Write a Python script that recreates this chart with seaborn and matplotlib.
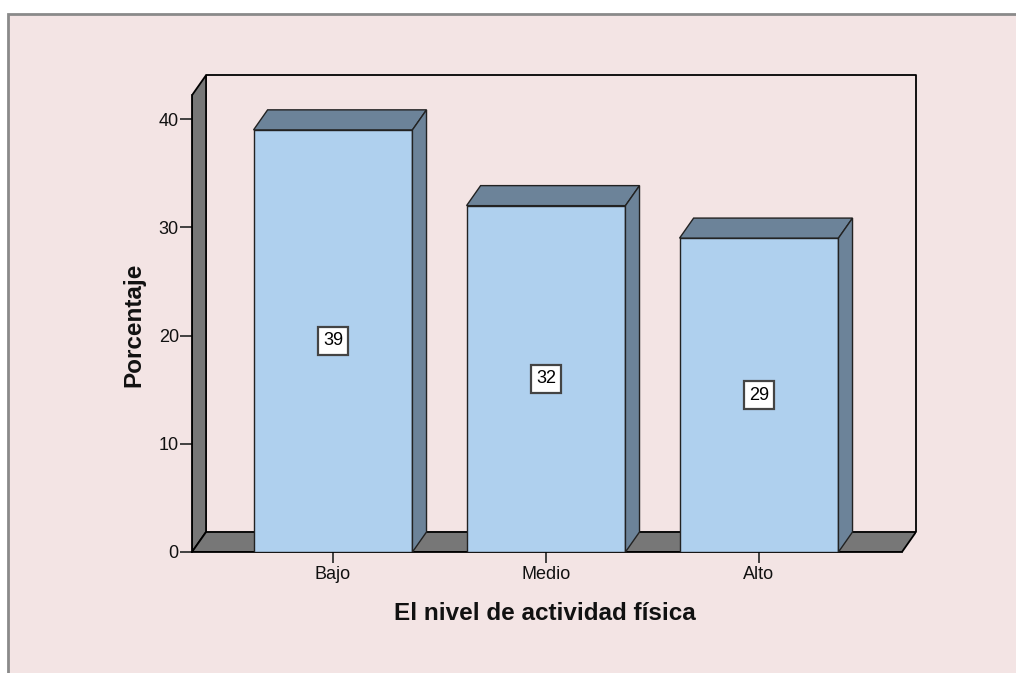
import matplotlib
matplotlib.use("Agg")
import matplotlib.pyplot as plt
from matplotlib.patches import Polygon, Rectangle
import seaborn as sns
import pandas as pd

categorias = ["Bajo", "Medio", "Alto"]
porcentajes = [39, 32, 29]
etiquetas = ["39", "32", "29"]
yticks = [0, 10, 20, 30, 40]

fondo = "#F3E4E4"
azul = "#AFD0EE"
pizarra = "#6C8399"
gris = "#777777"

sns.set_theme(style="white")
plt.rcParams['font.family'] = ['Liberation Sans', 'DejaVu Sans']

df = pd.DataFrame({"nivel": categorias, "pct": porcentajes})

fig = plt.figure(figsize=(10.16, 6.73), dpi=100)
fig.patch.set_facecolor("white")
marco = Rectangle((8 / 1016, -0.05), 1.1, 1.05 - 14 / 673,
                  transform=fig.transFigure, facecolor=fondo,
                  edgecolor="#8A8A8A", linewidth=2, zorder=-5)
fig.add_artist(marco)

ax = fig.add_axes([192 / 1016, 121 / 673, 724 / 1016, 477 / 673])
ax.set_facecolor("none")

# profundidad 3D
dx, dy = 0.066, 1.85
x0, x1 = -0.662, 2.671
ytop = 42.2
ancho = 0.746

# pared izquierda, suelo y pared trasera
ax.add_patch(Polygon([(x0, 0), (x0, ytop), (x0 + dx, ytop + dy), (x0 + dx, dy)],
                     closed=True, facecolor=gris, edgecolor="black", lw=1.3, zorder=1))
ax.add_patch(Polygon([(x0, 0), (x1, 0), (x1 + dx, dy), (x0 + dx, dy)],
                     closed=True, facecolor=gris, edgecolor="black", lw=1.3, zorder=1))
ax.plot([x0 + dx, x1 + dx, x1 + dx], [ytop + dy, ytop + dy, dy],
        color="black", lw=1.3, zorder=1, clip_on=False)

sns.barplot(data=df, x="nivel", y="pct", color=azul, saturation=1, width=ancho,
            edgecolor="#222222", linewidth=1.0, ax=ax, zorder=3)

for i, v in enumerate(porcentajes):
    l, r = i - ancho / 2, i + ancho / 2
    ax.add_patch(Polygon([(l, v), (r, v), (r + dx, v + dy), (l + dx, v + dy)],
                         closed=True, facecolor=pizarra, edgecolor="#222222", lw=1.0, zorder=3))
    ax.add_patch(Polygon([(r, 0), (r, v), (r + dx, v + dy), (r + dx, dy)],
                         closed=True, facecolor=pizarra, edgecolor="#222222", lw=1.0, zorder=3))
    ax.text(i, v / 2, etiquetas[i], ha="center", va="center", fontsize=13, color="black", zorder=5,
            bbox=dict(boxstyle="square,pad=0.3", facecolor="white", edgecolor="#444444", lw=1.6))

ax.set_xlim(-0.662, 2.737)
ax.set_ylim(0, 44.07)
ax.set_yticks(yticks)
ax.set_yticklabels([str(t) for t in yticks])
ax.tick_params(axis="x", labelsize=13, length=8, width=1.3, direction="out",
               color="#333333", labelcolor="#111111", pad=2)
ax.tick_params(axis="y", labelsize=13, length=8.5, width=1.3, direction="out",
               color="#333333", labelcolor="#111111", pad=1)
ax.tick_params(bottom=True, left=True)

for s in ["top", "right"]:
    ax.spines[s].set_visible(False)
ax.spines["left"].set_bounds(0, ytop)
ax.spines["bottom"].set_bounds(x0, x1)
ax.spines["left"].set_color("black")
ax.spines["bottom"].set_color("black")
ax.spines["left"].set_linewidth(1.3)
ax.spines["bottom"].set_linewidth(1.3)

ax.set_xlabel("El nivel de actividad física", fontsize=17.5, fontweight="bold", color="#111111")
ax.set_ylabel("Porcentaje", fontsize=17.5, fontweight="bold", color="#111111")
ax.xaxis.set_label_coords(0.488, -0.105)
ax.yaxis.set_label_coords(-0.064, 0.476)

fig.savefig("out.png", dpi=100)
